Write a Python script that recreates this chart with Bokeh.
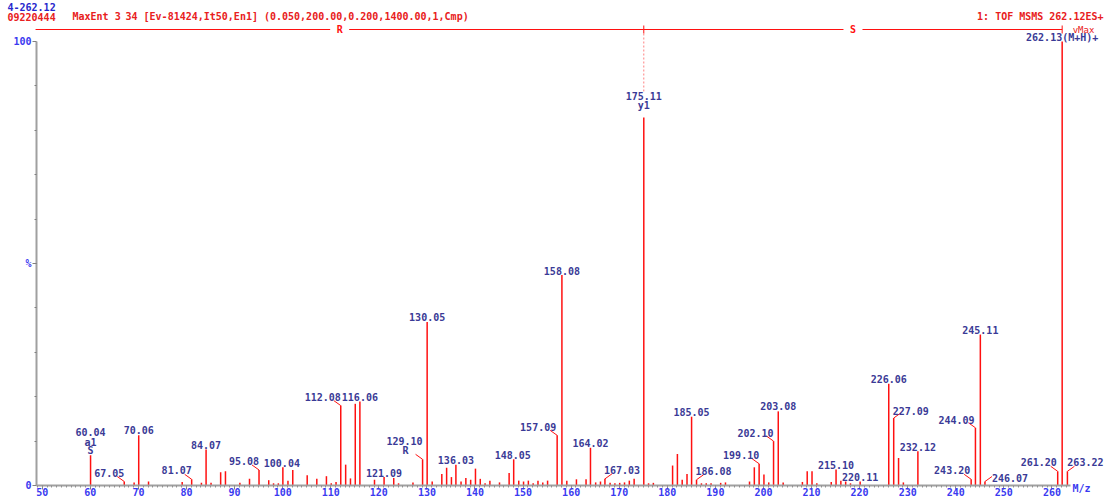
from bokeh.plotting import figure
from bokeh.models import Range1d, FixedTicker, ColumnDataSource
from bokeh.core.properties import value
from bokeh.embed import file_html
from bokeh.resources import INLINE

# ---------------- data ----------------
label_mz = [60.04, 67.05, 70.06, 81.07, 84.07, 95.08, 100.04, 112.08, 116.06, 121.09,
            129.10, 130.05, 136.03, 148.05, 157.09, 158.08, 164.02, 167.03, 175.11, 185.05,
            186.08, 199.10, 202.10, 203.08, 215.10, 220.11, 226.06, 227.09, 232.12, 243.20,
            244.09, 245.11, 246.07, 261.20, 262.13, 263.22]
label_int = [6.8, 0.9, 11.3, 1.4, 8.1, 3.5, 4.1, 18.0, 18.9, 1.9,
             5.9, 36.8, 4.7, 5.9, 11.3, 47.4, 8.5, 1.5, 82.9, 15.5,
             1.3, 4.9, 10.0, 16.7, 3.6, 0.9, 22.9, 15.2, 7.7, 1.4,
             13.0, 34.0, 0.9, 3.2, 100.0, 3.2]
label_txt = ["60.04", "67.05", "70.06", "81.07", "84.07", "95.08", "100.04", "112.08", "116.06", "121.09",
             "129.10", "130.05", "136.03", "148.05", "157.09", "158.08", "164.02", "167.03", "175.11", "185.05",
             "186.08", "199.10", "202.10", "203.08", "215.10", "220.11", "226.06", "227.09", "232.12", "243.20",
             "244.09", "245.11", "246.07", "261.20", "262.13(M+H)+", "263.22"]

other_mz = [69.1, 72.1, 79.1, 83.1, 85.1, 87.1, 88.1, 91.1, 93.1, 97.1, 98.1, 99.1, 101.1, 102.1,
            105.1, 107.1, 109.1, 110.1, 111.1, 113.1, 114.1, 115.1, 119.1, 123.1, 124.1, 127.1,
            131.1, 133.1, 134.1, 135.1, 137.1, 138.1, 139.1, 140.1, 141.1, 142.1, 143.1, 145.1,
            147.1, 149.1, 150.1, 151.1, 152.1, 153.1, 154.1, 155.1, 159.1, 161.1, 163.1, 165.1,
            166.1, 168.1, 169.1, 170.1, 171.1, 172.1, 173.1, 176.1, 177.1, 181.1, 182.1, 183.1,
            184.1, 187.1, 188.1, 189.1, 191.1, 192.1, 197.1, 198.1, 200.1, 201.1, 204.1, 208.1,
            209.1, 210.1, 211.1, 214.1, 216.1, 217.1, 218.1, 228.1, 229.1]
other_int = [0.7, 0.9, 0.8, 0.6, 0.6, 3.0, 3.2, 0.6, 1.5, 1.2, 0.5, 0.5, 1.1, 3.5,
             2.3, 1.5, 2.1, 0.5, 0.8, 4.7, 1.6, 18.4, 1.3, 1.7, 0.5, 0.7,
             0.9, 2.6, 4.0, 1.9, 0.9, 1.7, 1.3, 3.8, 1.5, 0.5, 1.1, 0.7,
             2.8, 1.1, 0.9, 1.1, 0.5, 1.1, 0.7, 1.1, 1.1, 1.4, 1.4, 0.7,
             0.9, 0.6, 0.5, 0.6, 0.7, 1.1, 1.5, 0.5, 0.6, 4.5, 7.1, 1.3,
             2.6, 0.5, 0.5, 0.5, 0.6, 0.7, 0.9, 4.1, 2.5, 0.7, 0.7, 0.8,
             3.2, 3.2, 0.5, 0.8, 1.1, 0.9, 0.5, 6.2, 0.7]

ion_mz = [60.04, 60.04, 129.10, 175.11]
ion_txt = ["a1", "S", "R", "y1"]

seq_mz = [19.02, 175.11, 262.13]
seq_res = ["R", "S"]

x_ticks = list(range(50, 261, 10))
y_ticks = [0, 50, 100]
y_tick_text = {0: "0", 50: "%", 100: "100"}

header_1 = "4-262.12"
header_2a = "09220444"
header_2b = "MaxEnt 3"
header_2c = "34 [Ev-81424,It50,En1] (0.050,200.00,0.200,1400.00,1,Cmp)"
header_r = "1: TOF MSMS 262.12ES+"

# ---------------- layout ----------------
W, H = 1111, 501
X0, X1 = 41.31, 272.39
Y0, Y1 = -3.60, 109.23
KX = W / (X1 - X0)
KY = H / (Y1 - Y0)
AX_X0, AX_X1 = 48.8, 263.9


def sx(px):  # canvas px -> data x
    return X0 + px / KX


def sy(py):  # canvas px -> data y
    return Y1 - py / KY


# label offsets: (dx px, height of center above peak top px, leader direction)
LABEL_POS = {
    "60.04": (0, 23, 0), "67.05": (-15, 9, -1), "70.06": (0, 5, 0), "81.07": (-15, 9, -1),
    "84.07": (0, 4.5, 0), "95.08": (-15, 9, -1), "100.04": (-1, 4.5, 0), "112.08": (-18, 8.5, -1),
    "116.06": (0, 4.5, 0), "121.09": (0, 4.5, 0), "129.10": (-18, 18, -1), "130.05": (0, 5, 0),
    "136.03": (0, 4.5, 0), "148.05": (-1, 4.5, 0), "157.09": (-19, 8.5, -1), "158.08": (0, 4.5, 0),
    "164.02": (0, 4.5, 0), "167.03": (17, 9, 1), "175.11": (0, 21, 0), "185.05": (0, 4.5, 0),
    "186.08": (17, 9, 1), "199.10": (-18, 9, -1), "202.10": (-18, 8.5, -1), "203.08": (0, 5, 0),
    "215.10": (0, 5, 0), "220.11": (0, 5, 0), "226.06": (0, 4.5, 0), "227.09": (17, 7.5, 1),
    "232.12": (0, 4.5, 0), "243.20": (-19, 9, -1), "244.09": (-19, 7.5, -1), "245.11": (0, 4.5, 0),
    "246.07": (25, 3.5, 1), "261.20": (-19, 9, -1), "262.13(M+H)+": (0, 4, 0), "263.22": (18, 9, 1),
}
ION_POS = [(0, 13), (0, 5), (-17, 8.5), (0, 11.5)]

RED = "#ff1010"
NAVY = "#3a3a96"
BLUE = "#3a3af0"
FONT = value("DejaVu Sans Mono")

p = figure(width=W, height=H, x_range=Range1d(X0, X1), y_range=Range1d(Y0, Y1),
           output_backend="svg", toolbar_location=None, min_border=0,
           x_axis_location="below", y_axis_location="left")
p.outline_line_color = None
p.grid.visible = False
p.background_fill_color = "white"

# axes
xa = p.xaxis[0]
xa.fixed_location = 0
xa.bounds = (AX_X0, AX_X1)
xa.ticker = FixedTicker(ticks=x_ticks, minor_ticks=list(range(49, 264)))
xa.axis_line_color = "#a0a0a0"
xa.axis_line_width = 2
xa.major_tick_line_color = "#808080"
xa.minor_tick_line_color = "#909090"
xa.major_tick_in = 0
xa.major_tick_out = 4
xa.minor_tick_in = 0
xa.minor_tick_out = 2
xa.major_label_standoff = -2
xa.major_label_text_font = "DejaVu Sans Mono"
xa.major_label_text_font_size = "10px"
xa.major_label_text_font_style = "bold"
xa.major_label_text_color = BLUE

ya = p.yaxis[0]
ya.fixed_location = AX_X0
ya.bounds = (0, 100)
ya.ticker = FixedTicker(ticks=y_ticks, minor_ticks=list(range(10, 100, 10)))
ya.major_label_overrides = y_tick_text
ya.axis_line_color = "#a0a0a0"
ya.axis_line_width = 2
ya.major_tick_line_color = "#808080"
ya.minor_tick_line_color = "#808080"
ya.major_tick_in = 0
ya.major_tick_out = 4
ya.minor_tick_in = 0
ya.minor_tick_out = 2
ya.major_label_standoff = 1
ya.major_label_text_font = "DejaVu Sans Mono"
ya.major_label_text_font_size = "10px"
ya.major_label_text_font_style = "bold"
ya.major_label_text_color = BLUE

# peaks
all_mz = label_mz + other_mz
all_int = label_int + other_int
p.segment(x0="mz", y0=0, x1="mz", y1="inten",
          source=ColumnDataSource(dict(mz=all_mz, inten=all_int)),
          line_color=RED, line_width=1.5)

# labels + leaders
lx, ly, lt, lxo, lyo = [], [], [], [], []
ldx0, ldy0, ldx1, ldy1 = [], [], [], []
for m, v, t in zip(label_mz, label_int, label_txt):
    dx, dy, d = LABEL_POS[t]
    lx.append(m); ly.append(v); lt.append(t); lxo.append(dx); lyo.append(-dy)
    if d:
        ldx0.append(m); ldy0.append(v)
        ldx1.append(m + d * 7 / KX); ldy1.append(v + 5 / KY)
p.segment(x0="x0", y0="y0", x1="x1", y1="y1",
          source=ColumnDataSource(dict(x0=ldx0, y0=ldy0, x1=ldx1, y1=ldy1)),
          line_color=RED, line_width=1)
p.text(x="x", y="y", text="t", x_offset="xo", y_offset="yo",
       source=ColumnDataSource(dict(x=lx, y=ly, t=lt, xo=lxo, yo=lyo)),
       text_font=FONT, text_font_size="10px", text_font_style="bold", text_color=NAVY,
       text_align="center", text_baseline="middle")

# ion annotations
ix, iy, ixo, iyo = [], [], [], []
for m, (dx, dy) in zip(ion_mz, ION_POS):
    ix.append(m); iy.append(label_int[label_mz.index(m)]); ixo.append(dx); iyo.append(-dy)
p.text(x="x", y="y", text="t", x_offset="xo", y_offset="yo",
       source=ColumnDataSource(dict(x=ix, y=iy, t=ion_txt, xo=ixo, yo=iyo)),
       text_font=FONT, text_font_size="10px", text_font_style="bold", text_color=NAVY,
       text_align="center", text_baseline="middle")

# sequence line (R / S)
YS = sy(29)
gap = 9.5 / KX
sx0, sx1, sy0, sy1 = [], [], [], []
rx, rt = [], []
for a, b, r in zip(seq_mz[:-1], seq_mz[1:], seq_res):
    a = max(a, AX_X0 - 0.2)
    mid = (a + b) / 2
    sx0 += [a, mid + gap]; sx1 += [mid - gap, b]; sy0 += [YS, YS]; sy1 += [YS, YS]
    rx.append(mid); rt.append(r)
for m in seq_mz[1:]:
    sx0.append(m); sx1.append(m); sy0.append(sy(25)); sy1.append(sy(33))
p.segment(x0="x0", y0="y0", x1="x1", y1="y1",
          source=ColumnDataSource(dict(x0=sx0, y0=sy0, x1=sx1, y1=sy1)),
          line_color=RED, line_width=1)
p.text(x=rx, y=[YS] * len(rx), text=rt, text_font=FONT, text_font_size="10px",
       text_font_style="bold", text_color=RED, text_align="center", text_baseline="middle")

# dashed marker for y1
y1_top = label_int[label_mz.index(175.11)]
p.segment(x0=[175.11], y0=[sy(33)], x1=[175.11], y1=[y1_top + 26 / KY],
          line_color="#ff8080", line_width=1, line_dash="2 2")

# headers
p.text(x=[sx(7)], y=[sy(6)], text=[header_1], text_font=FONT, text_font_size="10px",
       text_font_style="bold", text_color="#2828cc", text_align="left", text_baseline="middle")
p.text(x=[sx(7), sx(72), sx(125)], y=[sy(16)] * 3, text=[header_2a, header_2b, header_2c],
       text_font=FONT, text_font_size="10px", text_font_style="bold", text_color="#e82020",
       text_align="left", text_baseline="middle")
p.text(x=[sx(1103)], y=[sy(16)], text=[header_r], text_font=FONT, text_font_size="10px",
       text_font_style="bold", text_color="#e82020", text_align="right", text_baseline="middle")
p.text(x=[sx(1083)], y=[sy(29)], text=["vMax"], text_font=FONT, text_font_size="9px",
       text_color="#e82020", text_align="center", text_baseline="middle")

# axis title
p.text(x=[sx(1081)], y=[0], y_offset=[3], text=["M/z"], text_font=FONT, text_font_size="10px",
       text_font_style="bold", text_color=BLUE, text_align="center", text_baseline="middle")

open("out.html", "w").write(file_html(p, INLINE))
